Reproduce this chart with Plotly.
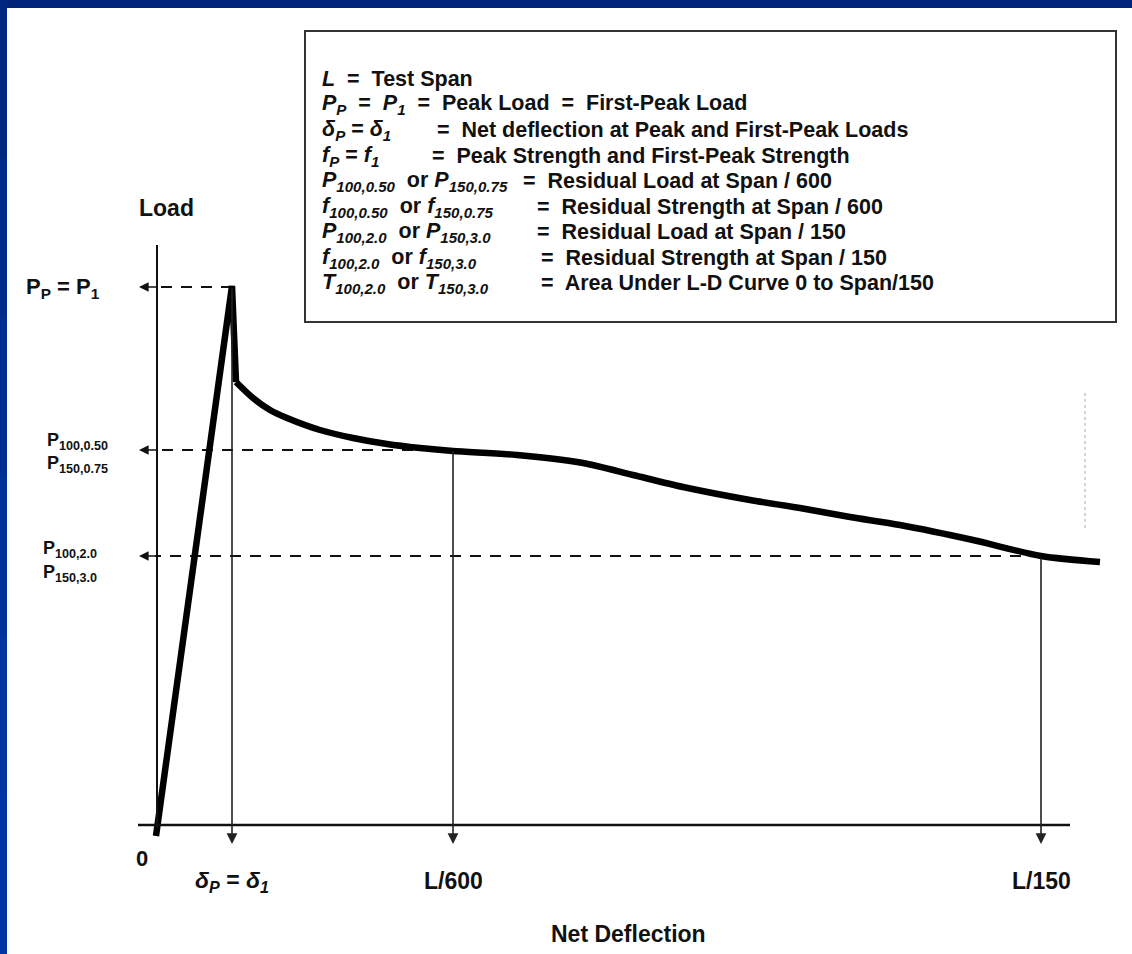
import plotly.graph_objects as go

# ---------------- data (schematic units, not to scale) ----------------
rise_x = [-0.01, 0.75, 0.79]
rise_y = [-0.11, 5.39, 4.43]
decay_x = [0.79, 0.96, 1.13, 1.30, 1.63, 1.96, 2.30, 2.63, 2.96, 3.60, 4.26,
           4.76, 5.26, 5.93, 6.43, 6.93, 7.43, 8.16, 8.84, 9.43]
decay_y = [4.43, 4.27, 4.15, 4.07, 3.95, 3.87, 3.81, 3.77, 3.74, 3.70, 3.62,
           3.50, 3.38, 3.25, 3.17, 3.08, 3.00, 2.85, 2.69, 2.63]

defl_marks = [0.75, 2.96, 8.84]          # deltaP, L/600, L/150
defl_labels = ["<i>δ<sub>P</sub></i> = <i>δ<sub>1</sub></i>", "L/600", "L/150"]
load_levels = [5.38, 3.75, 2.69]         # Peak, P at L/600, P at L/150

legend_left = [
    "<i>L</i>\u00a0 =\u00a0 Test Span",
    "<i>P<sub>P</sub></i>\u00a0 =\u00a0 <i>P<sub>1</sub></i>\u00a0 =\u00a0 Peak Load\u00a0 =\u00a0 First-Peak Load",
    "<i>δ<sub>P</sub></i> = <i>δ<sub>1</sub></i>",
    "<i>f<sub>P</sub></i> = <i>f<sub>1</sub></i>",
    "<i>P<sub>100,0.50</sub></i>\u00a0 or <i>P<sub>150,0.75</sub></i>",
    "<i>f<sub>100,0.50</sub></i>\u00a0 or <i>f<sub>150,0.75</sub></i>",
    "<i>P<sub>100,2.0</sub></i>\u00a0 or <i>P<sub>150,3.0</sub></i>",
    "<i>f<sub>100,2.0</sub></i>\u00a0 or <i>f<sub>150,3.0</sub></i>",
    "<i>T<sub>100,2.0</sub></i>\u00a0 or <i>T<sub>150,3.0</sub></i>",
]
legend_right = [
    None, None,
    "=\u00a0 Net deflection at Peak and First-Peak Loads",
    "=\u00a0 Peak Strength and First-Peak Strength",
    "=\u00a0 Residual Load at Span / 600",
    "=\u00a0 Residual Strength at Span / 600",
    "=\u00a0 Residual Load at Span / 150",
    "=\u00a0 Residual Strength at Span / 150",
    "=\u00a0 Area Under L-D Curve 0 to Span/150",
]
legend_right_px = [None, None, 437, 432, 523, 537, 537, 541, 541]
legend_rows_py = [79, 104, 130, 156, 181, 207, 232, 258, 283]

W, H = 1132, 954
OX, OY, S = 157, 825, 100.0   # layout helpers: pixel -> schematic unit


def X(px):
    return (px - OX) / S


def Y(py):
    return (OY - py) / S


FONT = "Liberation Sans, Arial, Helvetica, sans-serif"
INK = "#111111"

fig = go.Figure()

# dashed horizontal reference lines
for mx, lv in zip(defl_marks, load_levels):
    fig.add_trace(go.Scatter(x=[mx, X(155)], y=[lv, lv], mode="lines",
                             line=dict(color=INK, width=2, dash="11px,9px"),
                             hoverinfo="skip", showlegend=False))

# load-deflection curve
fig.add_trace(go.Scatter(x=rise_x, y=rise_y, mode="lines",
                         line=dict(color="#000000", width=6.5),
                         hoverinfo="skip", showlegend=False))
fig.add_trace(go.Scatter(x=decay_x, y=decay_y, mode="lines",
                         line=dict(color="#000000", width=6.5, shape="spline", smoothing=0.8),
                         hoverinfo="skip", showlegend=False))

shapes = []
# axes
shapes.append(dict(type="line", xref="x", yref="y", x0=0, x1=0, y0=Y(245), y1=Y(828),
                   line=dict(color=INK, width=2)))
shapes.append(dict(type="line", xref="x", yref="y", x0=X(138), x1=X(1070), y0=0, y1=0,
                   line=dict(color=INK, width=2.5)))
# legend box
shapes.append(dict(type="rect", xref="x", yref="y", x0=X(305), x1=X(1116), y0=Y(31), y1=Y(322),
                   line=dict(color="#333333", width=2), fillcolor="rgba(0,0,0,0)"))
# faint scan artefact
shapes.append(dict(type="line", xref="x", yref="y", x0=X(1085), x1=X(1085), y0=Y(393), y1=Y(530),
                   line=dict(color="#c8c8c8", width=1.5, dash="dot")))
# navy frame (top and left)
shapes.append(dict(type="rect", xref="paper", yref="paper", x0=0, x1=1, y0=1 - 8 / H, y1=1,
                   line=dict(width=0), fillcolor="#00247a"))
navy = ["#00277f", "#002b88", "#002f90", "#003298", "#00349e", "#0036a3"]
n = len(navy)
for i, c in enumerate(navy):
    shapes.append(dict(type="rect", xref="paper", yref="paper", x0=0, x1=7 / W,
                       y0=1 - (i + 1) / n, y1=1 - i / n, line=dict(width=0), fillcolor=c))

ann = []
# vertical arrows down to the deflection axis
for mx, lv in zip(defl_marks, load_levels):
    ann.append(dict(x=mx, y=Y(844), ax=mx, ay=lv, xref="x", yref="y", axref="x", ayref="y",
                    text="", showarrow=True, arrowhead=2, arrowsize=1.35, arrowwidth=1.6,
                    arrowcolor="#222222", standoff=0, startstandoff=0))
# horizontal arrow heads at load axis
for lv in load_levels:
    ann.append(dict(x=X(139), y=lv, ax=X(158), ay=lv, xref="x", yref="y", axref="x", ayref="y",
                    text="", showarrow=True, arrowhead=2, arrowsize=1.2, arrowwidth=1.6,
                    arrowcolor=INK, standoff=0, startstandoff=0))


def txt(x, y, s, size, xanchor="left"):
    ann.append(dict(x=x, y=y, xref="x", yref="y", text="<b>" + s + "</b>", showarrow=False,
                    xanchor=xanchor, yanchor="middle",
                    font=dict(family=FONT, size=size, color=INK)))


# legend text
for i, (l, r, rx, py) in enumerate(zip(legend_left, legend_right, legend_right_px, legend_rows_py)):
    txt(X(320), Y(py), l, 21.5)
    if r is not None:
        txt(X(rx - 2), Y(py), r, 21.5)

# axis labels and tick labels
txt(X(137), Y(208), "Load", 23)
txt(X(628), Y(934), "Net Deflection", 23, "center")
txt(X(142), Y(858), "0", 22, "center")
for mx, lab in zip(defl_marks, defl_labels):
    txt(mx, Y(881), lab, 23, "center")

# left-side load labels
txt(X(24), Y(288), "P<sub>P</sub> = P<sub>1</sub>", 22)
txt(X(45), Y(441), "P<sub>100,0.50</sub>", 18)
txt(X(45), Y(464), "P<sub>150,0.75</sub>", 18)
txt(X(41), Y(549), "P<sub>100,2.0</sub>", 18)
txt(X(41), Y(573), "P<sub>150,3.0</sub>", 18)

fig.update_layout(
    width=W, height=H, autosize=False,
    margin=dict(l=0, r=0, t=0, b=0, pad=0),
    paper_bgcolor="white", plot_bgcolor="white",
    xaxis=dict(range=[X(0), X(W)], visible=False, fixedrange=True),
    yaxis=dict(range=[Y(H), Y(0)], visible=False, fixedrange=True),
    shapes=shapes, annotations=ann, showlegend=False,
)

fig.write_html("out.html")
